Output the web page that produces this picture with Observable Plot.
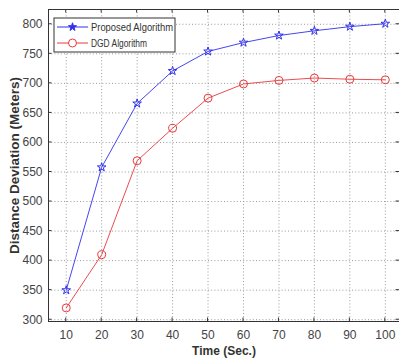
<!DOCTYPE html>
<html>
<head>
<meta charset="utf-8">
<script src="https://cdn.jsdelivr.net/npm/d3@7"></script>
<script src="https://cdn.jsdelivr.net/npm/@observablehq/plot@0.6"></script>
<style>
  html, body { margin: 0; padding: 0; background: #fff; overflow: hidden; }
  svg { display: block; }
</style>
</head>
<body>
<div id="chart"></div>
<script>
// Time steps (seconds)
const times = [10, 20, 30, 40, 50, 60, 70, 80, 90, 100];
// Distance deviation (meters) per method
const proposed = [350, 558, 666, 721, 754, 769, 781, 789, 796, 801];
const dgd = [320, 410, 569, 624, 675, 699, 705, 709, 707, 706];
// Tick values
const xTicks = [10, 20, 30, 40, 50, 60, 70, 80, 90, 100];
const yTicks = [300, 350, 400, 450, 500, 550, 600, 650, 700, 750, 800];

const seriesNames = ["Proposed Algorithm", "DGD Algorithm"];
const colors = ["#3030f0", "#e8393c"];

const rows = [
  ...times.map((t, i) => ({time: t, value: proposed[i], series: seriesNames[0]})),
  ...times.map((t, i) => ({time: t, value: dgd[i], series: seriesNames[1]}))
];
const propRows = rows.filter(d => d.series === seriesNames[0]);
const dgdRows = rows.filter(d => d.series === seriesNames[1]);

const font = "'Liberation Sans', Arial, sans-serif";

const plot = Plot.plot({
  width: 399,
  height: 361,
  marginLeft: 48,
  marginRight: 0,
  marginTop: 9,
  marginBottom: 40,
  style: {fontFamily: font, fontSize: "12px", color: "#444", background: "#fff"},
  x: {domain: [5, 104], ticks: xTicks},
  y: {domain: [297, 825], ticks: yTicks},
  marks: [
    Plot.gridX(xTicks, {stroke: "#8a8a8a", strokeOpacity: 0.85, strokeDasharray: "1,2.2"}),
    Plot.gridY(yTicks, {stroke: "#8a8a8a", strokeOpacity: 0.85, strokeDasharray: "1,2.2"}),
    Plot.frame({stroke: "#333", strokeWidth: 1}),
    Plot.axisX(xTicks, {tickSize: 0, tickPadding: 9, fill: "#444", fontSize: 12,
      label: "Time (Sec.)", labelAnchor: "center", labelArrow: "none", labelOffset: 33}),
    Plot.axisY(yTicks, {tickSize: 0, tickPadding: 6, fill: "#444", fontSize: 12,
      label: "Distance Deviation (Meters)", labelAnchor: "center", labelArrow: "none", labelOffset: 39}),
    Plot.line(propRows, {x: "time", y: "value", stroke: colors[0], strokeWidth: 0.9}),
    Plot.line(dgdRows, {x: "time", y: "value", stroke: colors[1], strokeWidth: 0.9}),
    Plot.dot(propRows, {x: "time", y: "value", symbol: "star", r: 2.7, stroke: colors[0], fill: "none", strokeWidth: 1}),
    Plot.dot(dgdRows, {x: "time", y: "value", symbol: "circle", r: 4, stroke: colors[1], fill: "none", strokeWidth: 1})
  ]
});

const svg = d3.select(plot);
const xs = plot.scale("x"), ys = plot.scale("y");
const [x0, x1] = [xs.apply(5), xs.apply(104)];
const [yBot, yTop] = [ys.apply(297), ys.apply(825)];

// Inward tick marks on all four sides
const tickG = svg.append("g").attr("stroke", "#333").attr("stroke-width", 1);
xTicks.forEach(t => {
  const x = xs.apply(t);
  tickG.append("line").attr("x1", x).attr("x2", x).attr("y1", yBot).attr("y2", yBot - 3.5);
  tickG.append("line").attr("x1", x).attr("x2", x).attr("y1", yTop).attr("y2", yTop + 3.5);
});
yTicks.forEach(v => {
  const y = ys.apply(v);
  tickG.append("line").attr("x1", x0).attr("x2", x0 + 3.5).attr("y1", y).attr("y2", y);
  tickG.append("line").attr("x1", x1).attr("x2", x1 - 3.5).attr("y1", y).attr("y2", y);
});

// Bold axis titles
svg.selectAll("[aria-label='x-axis label'] text")
  .attr("font-weight", "bold").attr("fill", "#333").style("font-size", "12px");
svg.selectAll("[aria-label='y-axis label'] text")
  .attr("font-weight", "bold").attr("fill", "#333").style("font-size", "13.5px");

// Legend box in upper-left corner of the frame
const lg = svg.append("g").attr("transform", `translate(${x0 + 6},${yTop + 9})`)
  .attr("text-anchor", "start");
lg.append("rect").attr("width", 121).attr("height", 34)
  .attr("fill", "#fff").attr("stroke", "#333").attr("stroke-width", 1);
const symStar = d3.symbol(d3.symbolStar, 20)();
const symCircle = d3.symbol(d3.symbolCircle, 50)();
seriesNames.forEach((name, i) => {
  const cy = 9 + i * 16;
  const row = lg.append("g").attr("transform", `translate(0,${cy})`);
  row.append("line").attr("x1", 3).attr("x2", 34).attr("y1", 0).attr("y2", 0)
    .attr("stroke", colors[i]).attr("stroke-width", 1);
  row.append("path").attr("d", i === 0 ? symStar : symCircle)
    .attr("transform", "translate(18.5,0)")
    .attr("fill", i === 0 ? colors[i] : "#fff").attr("stroke", colors[i]).attr("stroke-width", 1);
  row.append("text").attr("x", 37).attr("y", 0).attr("dy", "0.35em")
    .attr("text-anchor", "start")
    .attr("font-family", font).attr("font-size", "11.5px").attr("fill", "#333")
    .attr("textLength", i === 0 ? 82 : 56).attr("lengthAdjust", "spacingAndGlyphs")
    .text(name);
});

document.getElementById("chart").appendChild(plot);
</script>
</body>
</html>
